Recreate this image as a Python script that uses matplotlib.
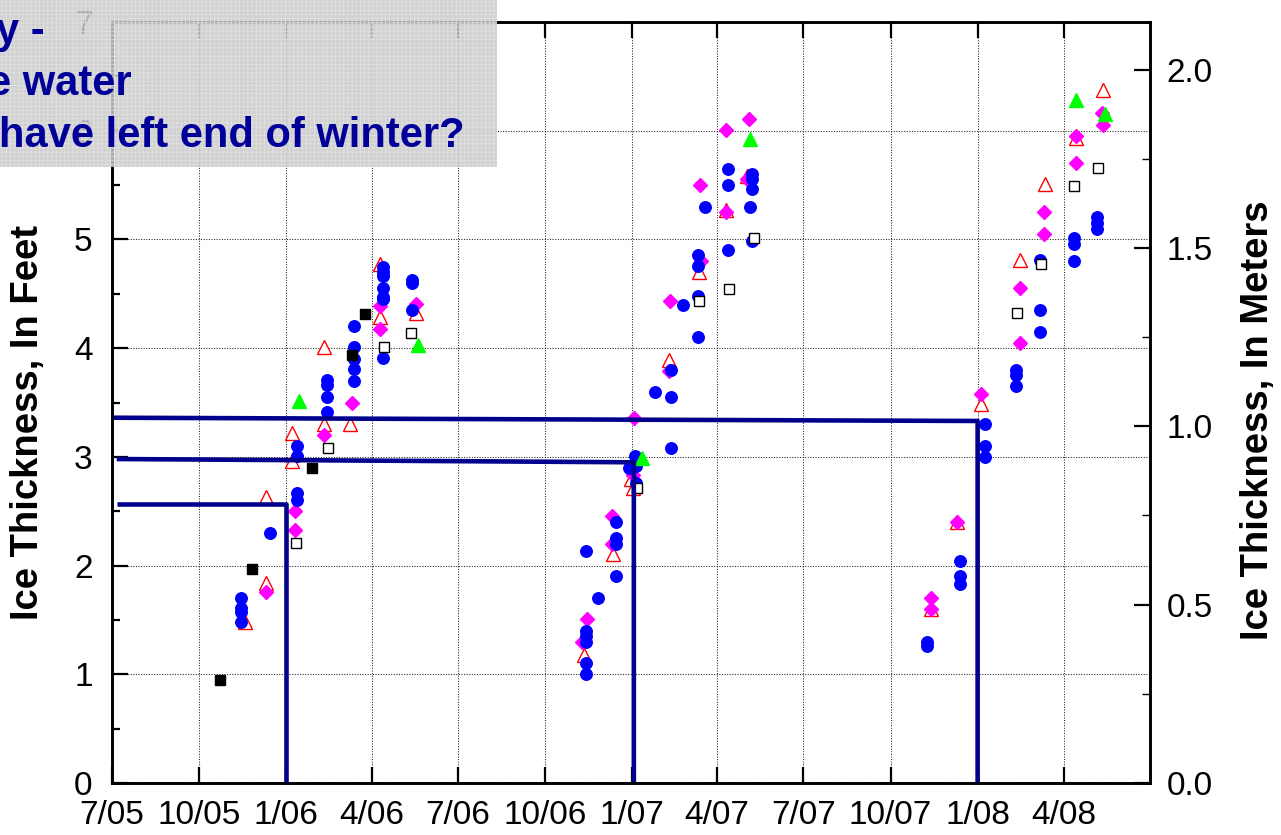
import pandas as pd
import matplotlib
matplotlib.use("Agg")
import matplotlib.pyplot as plt
from matplotlib.patches import Rectangle
from matplotlib.ticker import MultipleLocator, FormatStrFormatter

plt.rcParams["font.family"] = ["Liberation Sans", "DejaVu Sans"]
plt.rcParams["hatch.linewidth"] = 0.6

FT_TO_M = 0.3048

# Ice thickness (ft) by measurement date, one list per marker set
circles = [
    ("2005-11-14", 1.70), ("2005-11-14", 1.61), ("2005-11-14", 1.57), ("2005-11-14", 1.48),
    ("2005-12-15", 2.30),
    ("2006-01-12", 3.10), ("2006-01-12", 3.01), ("2006-01-12", 2.67), ("2006-01-12", 2.60),
    ("2006-02-13", 3.71), ("2006-02-13", 3.66), ("2006-02-13", 3.55), ("2006-02-13", 3.41),
    ("2006-03-14", 4.20), ("2006-03-14", 4.01), ("2006-03-14", 3.90), ("2006-03-14", 3.81),
    ("2006-03-14", 3.70),
    ("2006-04-13", 4.75), ("2006-04-13", 4.70), ("2006-04-13", 4.66), ("2006-04-13", 4.55),
    ("2006-04-13", 4.47), ("2006-04-13", 4.45), ("2006-04-13", 3.91),
    ("2006-05-14", 4.63), ("2006-05-14", 4.60), ("2006-05-14", 4.35),
    ("2006-11-14", 2.13), ("2006-11-14", 1.40), ("2006-11-14", 1.35), ("2006-11-14", 1.30),
    ("2006-11-14", 1.10), ("2006-11-13", 1.00),
    ("2006-11-26", 1.70),
    ("2006-12-15", 2.40), ("2006-12-15", 2.25), ("2006-12-15", 2.20), ("2006-12-15", 1.90),
    ("2006-12-29", 2.90), ("2007-01-04", 3.01), ("2007-01-05", 2.92), ("2007-01-05", 2.76),
    ("2007-01-25", 3.60),
    ("2007-02-11", 3.80), ("2007-02-11", 3.55), ("2007-02-11", 3.08),
    ("2007-02-24", 4.40),
    ("2007-03-12", 4.86), ("2007-03-12", 4.76), ("2007-03-12", 4.48), ("2007-03-12", 4.10),
    ("2007-03-19", 5.30),
    ("2007-04-12", 5.65), ("2007-04-12", 5.50), ("2007-04-12", 4.90),
    ("2007-05-06", 5.30),
    ("2007-05-08", 5.60), ("2007-05-08", 5.56), ("2007-05-08", 5.46), ("2007-05-08", 4.99),
    ("2007-11-09", 1.30), ("2007-11-09", 1.26),
    ("2007-12-13", 2.04), ("2007-12-13", 1.90), ("2007-12-13", 1.83),
    ("2008-01-09", 3.30), ("2008-01-09", 3.10), ("2008-01-09", 3.00),
    ("2008-02-11", 3.80), ("2008-02-11", 3.75), ("2008-02-11", 3.65),
    ("2008-03-07", 4.81), ("2008-03-07", 4.35), ("2008-03-07", 4.15),
    ("2008-04-12", 5.01), ("2008-04-12", 4.96), ("2008-04-12", 4.80),
    ("2008-05-06", 5.21), ("2008-05-06", 5.15), ("2008-05-06", 5.10),
]

diamonds = [
    ("2005-12-11", 1.76), ("2006-01-10", 2.50), ("2006-01-10", 2.33),
    ("2006-02-10", 3.20), ("2006-03-11", 3.50),
    ("2006-04-10", 4.39), ("2006-04-10", 4.18), ("2006-05-18", 4.41),
    ("2006-11-09", 1.30), ("2006-11-15", 1.51),
    ("2006-12-11", 2.46), ("2006-12-11", 2.20),
    ("2007-01-02", 2.83), ("2007-01-03", 3.36),
    ("2007-02-09", 3.79), ("2007-02-10", 4.43),
    ("2007-03-14", 5.50), ("2007-03-15", 4.80),
    ("2007-04-10", 6.01), ("2007-04-10", 5.25),
    ("2007-05-02", 5.56), ("2007-05-05", 6.11),
    ("2007-11-13", 1.70), ("2007-11-13", 1.60), ("2007-12-10", 2.40),
    ("2008-01-05", 3.58), ("2008-02-15", 4.55), ("2008-02-15", 4.05),
    ("2008-03-11", 5.25), ("2008-03-11", 5.05),
    ("2008-04-14", 5.95), ("2008-04-14", 5.70),
    ("2008-05-11", 6.16), ("2008-05-12", 6.05),
]

open_triangles = [
    ("2005-11-18", 1.48), ("2005-12-11", 2.63), ("2005-12-11", 1.84),
    ("2006-01-07", 3.22), ("2006-01-07", 2.96),
    ("2006-02-10", 4.01), ("2006-02-10", 3.30), ("2006-03-09", 3.30),
    ("2006-04-10", 4.77), ("2006-04-10", 4.29), ("2006-05-18", 4.32),
    ("2006-11-11", 1.18), ("2006-12-12", 2.11),
    ("2006-12-31", 2.80), ("2007-01-02", 2.71),
    ("2007-02-09", 3.89), ("2007-03-13", 4.70),
    ("2007-04-10", 5.27), ("2007-05-02", 5.58),
    ("2007-11-13", 1.60), ("2007-12-10", 2.40), ("2008-01-05", 3.49),
    ("2008-02-15", 4.81), ("2008-03-12", 5.51), ("2008-04-14", 5.93),
    ("2008-05-12", 6.37),
]

green_triangles = [
    ("2006-01-14", 3.51), ("2006-05-20", 4.03),
    ("2007-01-12", 2.99), ("2007-05-06", 5.92),
    ("2008-04-14", 6.28), ("2008-05-14", 6.15),
]

black_squares = [
    ("2005-10-23", 0.95), ("2005-11-26", 1.97), ("2006-01-28", 2.90),
    ("2006-03-11", 3.94), ("2006-03-25", 4.31),
]

open_squares = [
    ("2006-01-11", 2.21), ("2006-02-14", 3.08), ("2006-04-14", 4.01), ("2006-05-13", 4.14),
    ("2007-01-06", 2.71), ("2007-03-13", 4.43), ("2007-04-13", 4.54), ("2007-05-10", 5.01),
    ("2008-02-12", 4.32), ("2008-03-08", 4.77), ("2008-04-12", 5.49), ("2008-05-07", 5.66),
]

# thickness reached by 1 January each winter (ft)
jan_lines = [
    [("2005-07-06", 2.57), ("2006-01-01", 2.57), ("2006-01-01", 0.0)],
    [("2005-07-06", 2.98), ("2007-01-03", 2.95), ("2007-01-03", 0.0)],
    [("2005-07-01", 3.36), ("2008-01-01", 3.33), ("2008-01-01", 0.0)],
]

tick_dates = pd.date_range("2005-07-01", "2008-04-01", freq="3MS")
tick_labels = [f"{d.month}/{d.strftime('%y')}" for d in tick_dates]

box_lines = ["y -", "e water", "have left end of winter?"]


def unpack(pts):
    return pd.to_datetime([p[0] for p in pts]), [p[1] for p in pts]


W, H = 1281, 835
fig = plt.figure(figsize=(W / 100, H / 100), dpi=100)
ax = fig.add_axes([112 / W, 52 / H, 1038 / W, 761 / H])

x, y = unpack(open_triangles)
ax.plot(x, y, ls="none", marker="^", ms=9.5, mfc="white", mec="red", mew=1.0, zorder=3)
x, y = unpack(diamonds)
ax.plot(x, y, ls="none", marker="D", ms=7.2, mfc="#ff00ff", mec="#ff00ff", zorder=3)
x, y = unpack(circles)
ax.plot(x, y, ls="none", marker="o", ms=8.3, mfc="#0000ff", mec="#0000ff", zorder=3)
x, y = unpack(green_triangles)
ax.plot(x, y, ls="none", marker="^", ms=9.5, mfc="#00ff00", mec="#00ff00", zorder=3)
x, y = unpack(black_squares)
ax.plot(x, y, ls="none", marker="s", ms=7.3, mfc="black", mec="black", zorder=3)
x, y = unpack(open_squares)
ax.plot(x, y, ls="none", marker="s", ms=7, mfc="white", mec="black", mew=1.0, zorder=3)

for seg in jan_lines:
    x, y = unpack(seg)
    ax.plot(x, y, color="#00008c", lw=3.3, solid_capstyle="butt", zorder=5)

ax.set_xlim(pd.Timestamp("2005-07-01"), pd.Timestamp("2008-07-01"))
ax.set_ylim(0, 7)
ax.set_xticks(tick_dates)
ax.set_xticklabels(tick_labels)
ax.yaxis.set_major_locator(MultipleLocator(1))
ax.yaxis.set_minor_locator(MultipleLocator(0.5))
ax.grid(True, which="major", color="#222222", ls=(0, (1, 1.5)), lw=0.75, zorder=0)
ax.tick_params(which="major", direction="in", length=11.5, width=1.6, labelsize=24,
               top=True, pad=12)
ax.tick_params(which="minor", direction="in", length=6, width=1.6)
ax.tick_params(axis="y", pad=14)
for sp in ax.spines.values():
    sp.set_linewidth(1.9)

ax2 = ax.twinx()
ax2.set_ylim(0, 7 * FT_TO_M)
ax2.yaxis.set_major_locator(MultipleLocator(0.5))
ax2.yaxis.set_minor_locator(MultipleLocator(0.25))
ax2.yaxis.set_major_formatter(FormatStrFormatter("%.1f"))
ax2.tick_params(which="major", direction="in", length=11.5, width=1.6, labelsize=24, pad=12)
ax2.tick_params(which="minor", direction="in", length=6, width=1.0)
for sp in ax2.spines.values():
    sp.set_linewidth(1.9)

fig.text(28 / W, 0.494, "Ice Thickness, In Feet", rotation=90, ha="center", va="center",
         fontsize=27.5, fontweight="bold")
fig.text(1258 / W, 0.497, "Ice Thickness, In Meters", rotation=90, ha="center", va="center",
         fontsize=27.5, fontweight="bold")

# translucent title box in the top-left corner
box = Rectangle((0, 1 - 167 / H), 497 / W, 167 / H, transform=fig.transFigure,
                facecolor="#c9c9c9", edgecolor="#e2e2e2", hatch="++++", lw=0,
                alpha=0.85, zorder=5)
fig.add_artist(box)
for txt, (x0, base) in zip(box_lines, [(-4, 43), (-12, 95), (-1, 147)]):
    fig.text(x0 / W, 1 - base / H, txt, ha="left", va="baseline", fontsize=30,
             fontweight="bold", color="#000099", zorder=6)

fig.savefig("out.png", dpi=100)
